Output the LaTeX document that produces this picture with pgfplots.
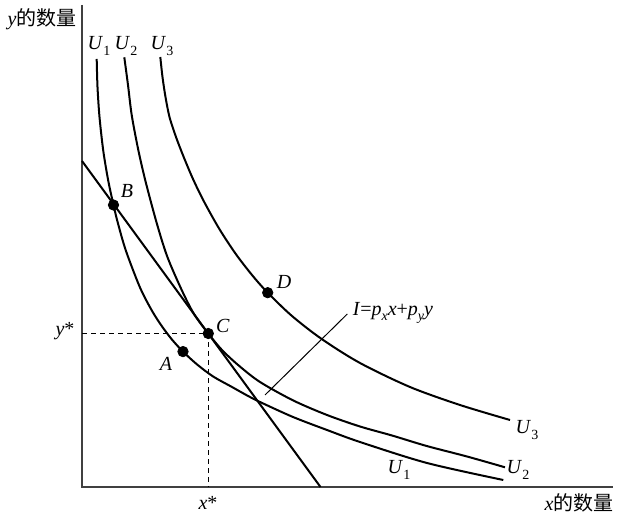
\documentclass[border=0pt]{standalone}
\usepackage{fontspec}
\setmainfont{Liberation Serif}
\newfontfamily\cjk{Noto Sans CJK SC}
\usepackage{pgfplots}
\pgfplotsset{compat=1.18}
\newcommand{\sub}[1]{\raisebox{-0.6ex}{\scriptsize #1}}
\begin{document}
\begin{tikzpicture}
\begin{axis}[
  x=0.5pt, y=0.5pt, xmin=-82, xmax=546, ymin=-29, ymax=487,
  axis lines=none, clip=false, scale only axis,
]
\path (rel axis cs:0,0) rectangle (rel axis cs:1,1);
% axes
\addplot[line width=0.7pt, black!75, mark=none] coordinates {(0,482) (0,0) (531,0)};
% U1
\addplot[black, line width=1pt, smooth, tension=0.5, mark=none] coordinates {
(14.7,428) (15.5,400) (17.5,370) (21.3,336) (26.3,306) (31.5,282) (36,263.5)
(44,236) (58,199.5) (70,176.2) (80,160.6) (90,147.4) (101,135.4) (115,122.6)
(131,110.6) (150,100) (165,91.6) (178,85) (211,70) (245,57) (278,45) (345,24) (421.3,7)};
% U2
\addplot[black, line width=1pt, smooth, tension=0.5, mark=none] coordinates {
(42.3,429.7) (46,402) (49.7,372) (56.3,337) (63.7,305) (74.7,264) (85.3,230.3)
(99.7,197) (112,173) (126.3,153.5) (140,137) (156.7,121.5) (178,105) (211.3,86.5)
(245,72) (278,60.5) (310,51.5) (344.7,41) (385,30.5) (423,19.7)};
% U3
\addplot[black, line width=1pt, smooth, tension=0.5, mark=none] coordinates {
(78.3,430) (80.5,410) (83.5,390) (87.5,370) (94,350) (101.7,330) (111,308)
(121.7,286) (137,258.6) (153.3,233.7) (170,212) (185.7,194.3) (210,171)
(239.7,148) (278,124) (328,100) (378,82) (428,67)};
% budget line
\addplot[black, line width=1pt, mark=none] coordinates {(0,326) (238.5,0)};
% dashed guides
\addplot[black, line width=0.8pt, dash pattern=on 2.5pt off 2pt, mark=none] coordinates {(0,153.5) (126.3,153.5) (126.3,0)};
% leader line
\addplot[black, line width=0.5pt, mark=none] coordinates {(183,92) (265.3,173)};
% points B, C, A, D
\addplot[only marks, mark=*, mark size=2.6pt, black] coordinates {(31.5,282) (126.3,153.5) (101,135.4) (185.7,194.3)};
% labels
\node at (axis cs:-40,468) {\textit{y}\cjk 的数量};
\node at (axis cs:497,-16) {\textit{x}\cjk 的数量};
\node at (axis cs:-17,156) {\textit{y}*};
\node at (axis cs:126,-16) {\textit{x}*};
\node at (axis cs:17,441) {\textit{U}\sub{1}};
\node at (axis cs:44,441) {\textit{U}\sub{2}};
\node at (axis cs:80,441) {\textit{U}\sub{3}};
\node at (axis cs:445,57) {\textit{U}\sub{3}};
\node at (axis cs:436,17) {\textit{U}\sub{2}};
\node at (axis cs:317,17) {\textit{U}\sub{1}};
\node at (axis cs:45,296) {\textit{B}};
\node at (axis cs:141,161) {\textit{C}};
\node at (axis cs:84,123) {\textit{A}};
\node at (axis cs:202,205) {\textit{D}};
\node at (axis cs:311,174) {\textit{I}=\textit{p}\sub{\textit{x}}\textit{x}+\textit{p}\sub{\textit{y}}\textit{y}};
\end{axis}
\end{tikzpicture}
\end{document}
